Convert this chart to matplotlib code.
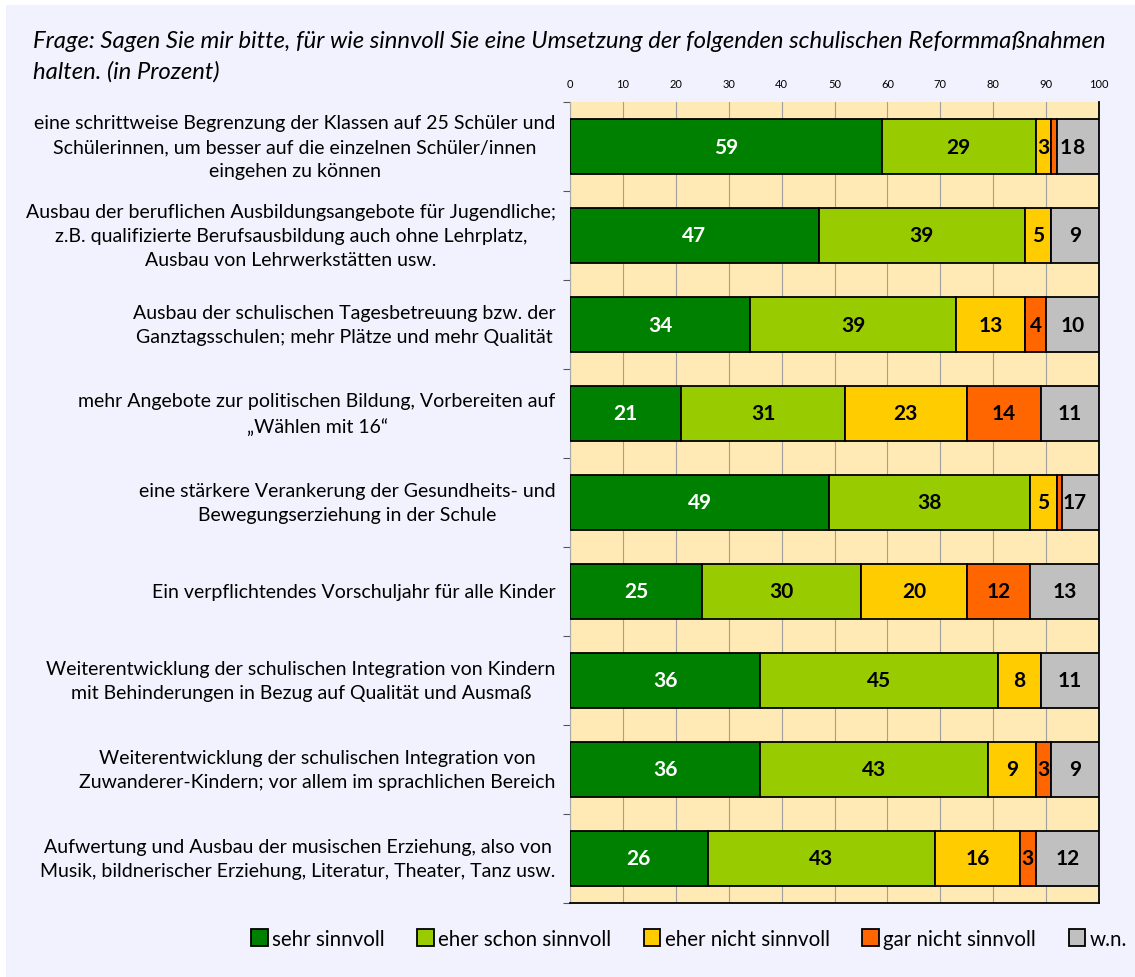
import matplotlib.pyplot as plt
from matplotlib.patches import Rectangle

plt.rcParams['font.family'] = ['Lato', 'DejaVu Sans']

kategorien = [
    "eine schrittweise Begrenzung der Klassen auf 25 Schüler und\nSchülerinnen, um besser auf die einzelnen Schüler/innen\neingehen zu können",
    "Ausbau der beruflichen Ausbildungsangebote für Jugendliche;\nz.B. qualifizierte Berufsausbildung auch ohne Lehrplatz,\nAusbau von Lehrwerkstätten usw.",
    "Ausbau der schulischen Tagesbetreuung bzw. der\nGanztagsschulen; mehr Plätze und mehr Qualität",
    "mehr Angebote zur politischen Bildung, Vorbereiten auf\n„Wählen mit 16“",
    "eine stärkere Verankerung der Gesundheits- und\nBewegungserziehung in der Schule",
    "Ein verpflichtendes Vorschuljahr für alle Kinder",
    "Weiterentwicklung der schulischen Integration von Kindern\nmit Behinderungen in Bezug auf Qualität und Ausmaß",
    "Weiterentwicklung der schulischen Integration von\nZuwanderer-Kindern; vor allem im sprachlichen Bereich",
    "Aufwertung und Ausbau der musischen Erziehung, also von\nMusik, bildnerischer Erziehung, Literatur, Theater, Tanz usw.",
]

sehr_sinnvoll = [59, 47, 34, 21, 49, 25, 36, 36, 26]
eher_schon = [29, 39, 39, 31, 38, 30, 45, 43, 43]
eher_nicht = [3, 5, 13, 23, 5, 20, 8, 9, 16]
gar_nicht = [1, 0, 4, 14, 1, 12, 0, 3, 3]
wn = [8, 9, 10, 11, 7, 13, 11, 9, 12]

serien = [sehr_sinnvoll, eher_schon, eher_nicht, gar_nicht, wn]
namen = ["sehr sinnvoll", "eher schon sinnvoll", "eher nicht sinnvoll", "gar nicht sinnvoll", "w.n."]
farben = ["#008000", "#99cc00", "#ffcc00", "#ff6600", "#c0c0c0"]
textfarben = ["white", "black", "black", "black", "black"]

titel_zeilen = ["Frage: Sagen Sie mir bitte, für wie sinnvoll Sie eine Umsetzung der folgenden schulischen Reformmaßnahmen",
                "halten. (in Prozent)"]

fig = plt.figure(figsize=(11.35, 9.78), dpi=100)
fig.patch.set_facecolor("white")
fig.patches.append(Rectangle((6 / 1135, 0), 1, 1 - 6 / 978, transform=fig.transFigure,
                             facecolor="#f2f2fe", edgecolor="none", zorder=-10))

ax = fig.add_axes([570 / 1135, 1 - 904 / 978, 529 / 1135, 801 / 978])
ax.set_facecolor("#ffe9b4")

y = list(range(len(kategorien)))
links = [0] * len(kategorien)
for serie, name, farbe, tf in zip(serien, namen, farben, textfarben):
    bars = ax.barh(y, serie, left=links, height=0.61, color=farbe, edgecolor="black",
                   linewidth=1.3, label=name, zorder=3)
    for i, b in enumerate(bars):
        v = serie[i]
        if v == 0:
            continue
        xm = links[i] + v / 2
        if v < 2 and name == "gar nicht sinnvoll":
            # kleiner Wert: Beschriftung rutscht neben die w.n.-Zahl
            xg = links[i] + v + wn[i] / 2
            ax.annotate(str(v), (xg, i), xytext=(-4.5, 0), textcoords="offset points",
                        ha="right", va="center", fontsize=15, fontweight="bold", color=tf, zorder=5)
        else:
            ax.text(xm, i, str(v), ha="center", va="center", fontsize=15,
                    fontweight="bold", color=tf, zorder=5)
        links[i] += v

ax.set_xlim(0, 100)
ax.set_ylim(len(kategorien) - 0.5, -0.5)
ax.xaxis.tick_top()
ax.set_xticks(range(0, 101, 10))
ax.tick_params(axis="x", length=0, labelsize=8, pad=9)
ax.xaxis.grid(True, color="#a0a0a0", linewidth=0.8, zorder=0)
ax.set_axisbelow(True)

ax.set_yticks([k - 0.5 for k in range(len(kategorien) + 1)])
ax.set_yticklabels([])
ax.tick_params(axis="y", length=5, color="#555555", direction="out")

for k, txt in enumerate(kategorien):
    ax.text(-0.027, k, txt, transform=ax.get_yaxis_transform(), ha="right", va="center",
            multialignment="center", fontsize=14, linespacing=1.5)

ax.spines["top"].set_visible(False)
ax.spines["left"].set_color("#aaaaaa")
ax.spines["right"].set_color("black")
ax.spines["bottom"].set_color("black")
ax.spines["right"].set_linewidth(1.3)
ax.spines["bottom"].set_linewidth(1.3)

for z, (zeile, ypx) in enumerate(zip(titel_zeilen, [42, 72])):
    fig.text(33 / 1135, 1 - ypx / 978, zeile, ha="left", va="center", fontsize=17.2,
             style="italic")

fig.legend(loc="center", bbox_to_anchor=(689 / 1135, 1 - 940 / 978), ncol=5, frameon=False,
           fontsize=14.8, handlelength=0.8, handleheight=0.9, handletextpad=0.2,
           columnspacing=1.6)

fig.savefig("out.png", dpi=100, facecolor=fig.get_facecolor())
